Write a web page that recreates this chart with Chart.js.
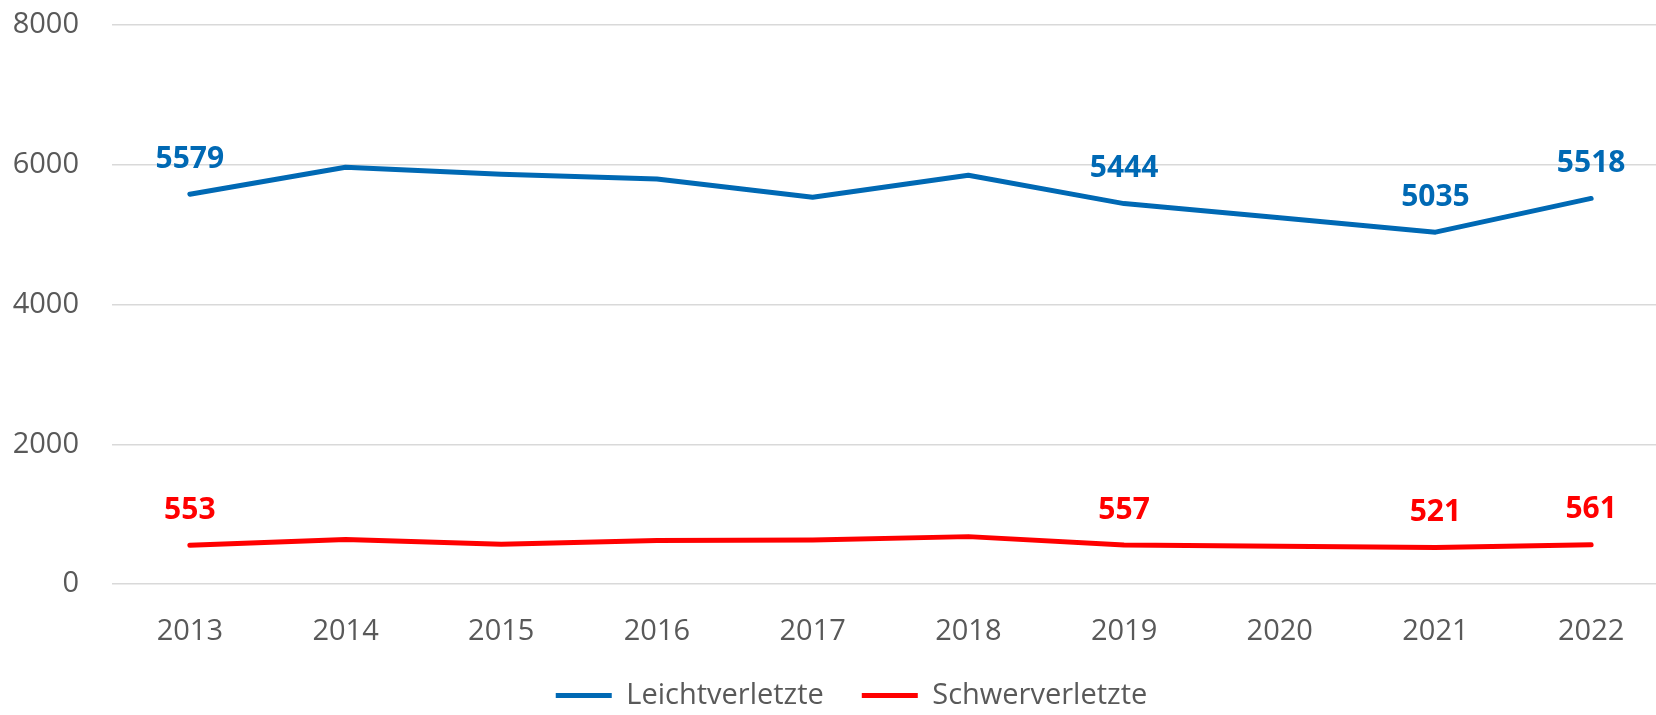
<!DOCTYPE html>
<html lang="de">
<head>
<meta charset="utf-8">
<title>Verletzte 2013–2022</title>
<script src="https://cdn.jsdelivr.net/npm/chart.js@4"></script>
<style>
  html, body { margin: 0; padding: 0; background: #fff; overflow: hidden; }
  #wrap { position: relative; width: 1680px; height: 720px; }
</style>
</head>
<body>
<div id="wrap"><canvas id="chart"></canvas></div>
<script>
const jahre = ["2013", "2014", "2015", "2016", "2017", "2018", "2019", "2020", "2021", "2022"];
const leichtverletzte = [5579, 5964, 5864, 5797, 5534, 5849, 5444, 5240, 5035, 5518];
const schwerverletzte = [553, 638, 568, 624, 628, 678, 557, 541, 521, 561];
const beschriftet = ["2013", "2019", "2021", "2022"]; // Jahre mit Wertebeschriftung
const yTicks = [0, 2000, 4000, 6000, 8000];

const BLAU = "#0069B4";
const ROT = "#FF0000";
const GRAU = "#595959";
const FONT = "'Open Sans', 'Noto Sans', sans-serif";

// Wertebeschriftung über den Punkten
const wertLabels = {
  id: "wertLabels",
  afterDatasetsDraw(chart) {
    const { ctx } = chart;
    ctx.save();
    ctx.font = `bold 30px ${FONT}`;
    ctx.textAlign = "center";
    ctx.textBaseline = "middle";
    chart.data.datasets.forEach((ds, i) => {
      const meta = chart.getDatasetMeta(i);
      ctx.fillStyle = ds.borderColor;
      chart.data.labels.forEach((jahr, j) => {
        if (!beschriftet.includes(jahr)) return;
        const pt = meta.data[j];
        ctx.fillText(String(ds.data[j]), pt.x, pt.y - 35);
      });
    });
    ctx.restore();
  }
};

// Legende etwas nach rechts schieben (Original ist rechts beschnitten)
const legendeVersatz = {
  id: "legendeVersatz",
  afterLayout(chart) {
    if (!chart.legend) return;
    chart.legend.left += 17;
    chart.legend.right += 17;
  }
};

new Chart(document.getElementById("chart"), {
  type: "line",
  data: {
    labels: jahre,
    datasets: [
      { label: "Leichtverletzte", data: leichtverletzte, borderColor: BLAU, backgroundColor: BLAU,
        borderWidth: 5, borderCapStyle: "round", borderJoinStyle: "round", pointRadius: 0, tension: 0 },
      { label: "Schwerverletzte", data: schwerverletzte, borderColor: ROT, backgroundColor: ROT,
        borderWidth: 5, borderCapStyle: "round", borderJoinStyle: "round", pointRadius: 0, tension: 0 }
    ]
  },
  options: {
    responsive: true,
    maintainAspectRatio: false,
    animation: false,
    layout: { padding: { top: 0, right: 11, bottom: 0, left: 0 } },
    plugins: {
      tooltip: { enabled: false },
      legend: {
        position: "bottom",
        labels: {
          usePointStyle: true,
          pointStyle: "line",
          pointStyleWidth: 56,
          color: GRAU,
          padding: 38,
          font: { family: FONT, size: 29 }
        }
      }
    },
    scales: {
      x: {
        offset: true,
        grid: { display: false, drawTicks: false },
        border: { display: false },
        ticks: { color: GRAU, padding: 30, font: { family: FONT, size: 29 } },
        afterFit: (s) => { s.height = 59; }
      },
      y: {
        min: 0,
        max: 8000,
        afterBuildTicks: (s) => { s.ticks = yTicks.map(v => ({ value: v })); },
        grid: { color: "#D9D9D9", lineWidth: 1.5, drawTicks: false },
        border: { display: false },
        ticks: { color: GRAU, padding: 33, font: { family: FONT, size: 29 }, callback: (v) => String(v) },
        afterFit: (s) => { s.width = 112; s.paddingTop = 25; s.paddingBottom = 0; }
      }
    }
  },
  plugins: [wertLabels, legendeVersatz]
});
</script>
</body>
</html>
